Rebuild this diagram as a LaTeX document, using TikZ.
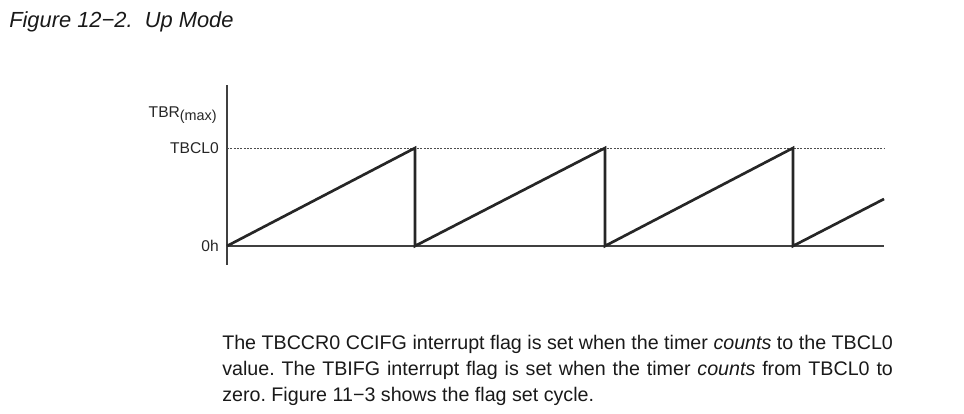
\documentclass[tikz,border=0pt]{standalone}
\usepackage{fontspec}
\setmainfont{Liberation Sans}
\frenchspacing
\begin{document}
\begin{tikzpicture}[x=0.75pt,y=-0.75pt,
  axis/.style={line width=0.8pt,black!75},
  ramp/.style={line width=2pt,black!85,line join=miter},
  limit/.style={line width=0.5pt,black!70,dash pattern=on 1.5pt off 1pt},
  lbl/.style={font=\fontsize{11.7pt}{13pt}\selectfont,anchor=east,inner sep=0pt,text=black!85},
  body/.style={font=\fontsize{14.75pt}{17.6pt}\selectfont,anchor=base west,inner sep=0pt,text=black!90}]
\useasboundingbox (0,0) rectangle (964,414);
\node[anchor=base west,inner sep=0pt,font=\fontsize{16.4pt}{18pt}\selectfont\itshape,text=black!90] (title) at (9,27) {Figure 12−2.\ \ Up Mode};
% axes
\coordinate (ytop) at (227,85);
\coordinate (ybot) at (227,265);
\coordinate (o) at (227,246);
\coordinate (xend) at (884,246);
\coordinate (lim) at (227,148);
\coordinate (limend) at (884,148);
\draw[axis] (ytop) -- (ybot);
\draw[axis] (o) -- (xend);
\draw[limit] (lim) -- (limend);
% ramps
\coordinate (p1) at (415,148); \coordinate (z1) at (415,246);
\coordinate (p2) at (605,148); \coordinate (z2) at (605,246);
\coordinate (p3) at (793,148); \coordinate (z3) at (793,246);
\coordinate (e) at (884,199);
\draw[ramp] (o) -- (p1) -- (z1) -- (p2) -- (z2) -- (p3) -- (z3) -- (e);
% labels
\node[lbl,anchor=base east] (tbr) at (217,117) {TBR\raisebox{-0.45ex}{\fontsize{10.8pt}{12pt}\selectfont(max)}};
\node[lbl] (tbcl) at (219,148) {TBCL0};
\node[lbl] (zero) at (219,246) {0h};
\node[body] (l1) at (222,349) {\makebox[503pt][s]{The TBCCR0 CCIFG interrupt flag is set when the timer \textit{counts} to the TBCL0}};
\node[body] (l2) at (222,375) {\makebox[503pt][s]{value. The TBIFG interrupt flag is set when the timer \textit{counts} from TBCL0 to}};
\node[body] (l3) at (222,401) {zero. Figure 11−3 shows the flag set cycle.};
\end{tikzpicture}
\end{document}
